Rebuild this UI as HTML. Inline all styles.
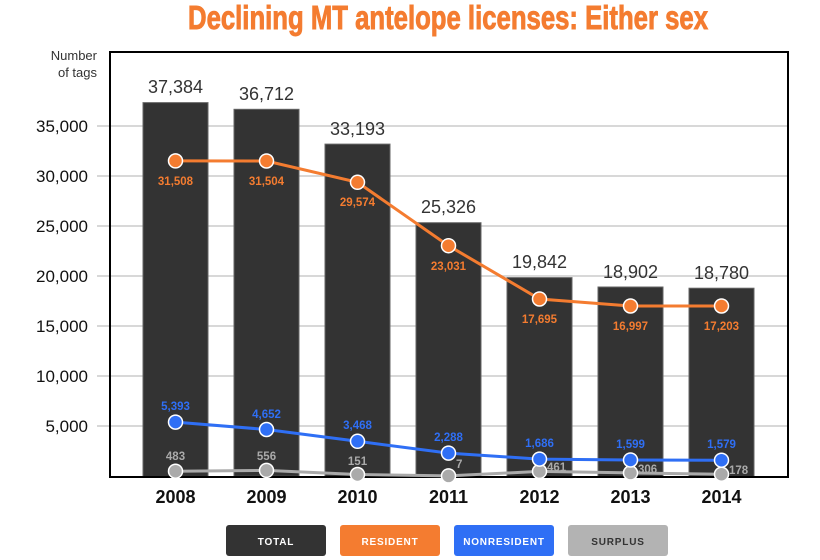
<!DOCTYPE html>
<html><head><meta charset="utf-8"><style>
body{margin:0;background:#fff;width:820px;height:560px;overflow:hidden}
svg{display:block}
text{font-family:"Liberation Sans",sans-serif}
</style></head><body>
<svg width="820" height="560" viewBox="0 0 820 560">
<text x="448" y="29" text-anchor="middle" font-weight="bold" font-size="33" fill="#f47c30" stroke="#f47c30" stroke-width="0.9" style="font-family:'Liberation Sans Narrow','Liberation Sans',sans-serif" textLength="520" lengthAdjust="spacingAndGlyphs">Declining MT antelope licenses: Either sex</text>
<text x="97" y="60" text-anchor="end" font-size="13" fill="#333">Number</text>
<text x="97" y="77" text-anchor="end" font-size="13" fill="#333">of tags</text>
<g stroke="#ccc" stroke-width="1.5">
<line x1="97" y1="126" x2="788" y2="126"/><line x1="97" y1="176" x2="788" y2="176"/>
<line x1="97" y1="226" x2="788" y2="226"/><line x1="97" y1="276" x2="788" y2="276"/>
<line x1="97" y1="326" x2="788" y2="326"/><line x1="97" y1="376" x2="788" y2="376"/>
<line x1="97" y1="426" x2="788" y2="426"/>
</g>
<g font-size="17" fill="#111" text-anchor="end">
<text x="88" y="132">35,000</text><text x="88" y="182">30,000</text><text x="88" y="232">25,000</text>
<text x="88" y="282">20,000</text><text x="88" y="332">15,000</text><text x="88" y="382">10,000</text>
<text x="88" y="432">5,000</text>
</g>
<g fill="#333" stroke="#666" stroke-width="1">
<rect x="143" y="102.6" width="65" height="374"/>
<rect x="234" y="109.3" width="65" height="367"/>
<rect x="325" y="144.1" width="65" height="333"/>
<rect x="416" y="222.7" width="65" height="254"/>
<rect x="507" y="277.6" width="65" height="199"/>
<rect x="598" y="287" width="65" height="190"/>
<rect x="689" y="288.2" width="65" height="189"/>
</g>
<rect x="110" y="52" width="678" height="425" fill="none" stroke="#000" stroke-width="2"/>
<g font-size="18" fill="#333" text-anchor="middle">
<text x="175.5" y="93">37,384</text><text x="266.5" y="100">36,712</text><text x="357.5" y="135">33,193</text>
<text x="448.5" y="213">25,326</text><text x="539.5" y="268">19,842</text><text x="630.5" y="278">18,902</text><text x="721.5" y="279">18,780</text>
</g>
<polyline points="175.5,471.2 266.5,470.4 357.5,474.5 448.5,475.9 539.5,471.4 630.5,472.9 721.5,474.2" fill="none" stroke="#aaa" stroke-width="3"/>
<g fill="#aaa" stroke="#fff" stroke-width="1.5">
<circle cx="175.5" cy="471.2" r="7"/><circle cx="266.5" cy="470.4" r="7"/><circle cx="357.5" cy="474.5" r="7"/><circle cx="448.5" cy="475.9" r="7"/><circle cx="539.5" cy="471.4" r="7"/><circle cx="630.5" cy="472.9" r="7"/><circle cx="721.5" cy="474.2" r="7"/>
</g>
<g font-size="11.5" fill="#aaa" font-weight="bold">
<text x="175.5" y="460" text-anchor="middle">483</text><text x="266.5" y="460" text-anchor="middle">556</text><text x="357.5" y="465" text-anchor="middle">151</text>
<text x="456" y="468">7</text><text x="547" y="471">461</text><text x="638" y="473">306</text><text x="729" y="474">178</text>
</g>
<polyline points="175.5,422.1 266.5,429.5 357.5,441.3 448.5,453.1 539.5,459.1 630.5,460 721.5,460.2" fill="none" stroke="#2f6ff5" stroke-width="3"/>
<g fill="#2f6ff5" stroke="#fff" stroke-width="1.5">
<circle cx="175.5" cy="422.1" r="7"/><circle cx="266.5" cy="429.5" r="7"/><circle cx="357.5" cy="441.3" r="7"/><circle cx="448.5" cy="453.1" r="7"/><circle cx="539.5" cy="459.1" r="7"/><circle cx="630.5" cy="460" r="7"/><circle cx="721.5" cy="460.2" r="7"/>
</g>
<g font-size="11.5" fill="#2f6ff5" font-weight="bold" text-anchor="middle">
<text x="175.5" y="410">5,393</text><text x="266.5" y="418">4,652</text><text x="357.5" y="429">3,468</text>
<text x="448.5" y="441">2,288</text><text x="539.5" y="447">1,686</text><text x="630.5" y="448">1,599</text><text x="721.5" y="448">1,579</text>
</g>
<polyline points="175.5,160.9 266.5,161 357.5,182.3 448.5,245.7 539.5,299 630.5,306 721.5,306" fill="none" stroke="#f47c30" stroke-width="3"/>
<g fill="#f47c30" stroke="#fff" stroke-width="1.5">
<circle cx="175.5" cy="160.9" r="7"/><circle cx="266.5" cy="161" r="7"/><circle cx="357.5" cy="182.3" r="7"/><circle cx="448.5" cy="245.7" r="7"/><circle cx="539.5" cy="299" r="7"/><circle cx="630.5" cy="306" r="7"/><circle cx="721.5" cy="306" r="7"/>
</g>
<g font-size="11.5" fill="#f47c30" font-weight="bold" text-anchor="middle">
<text x="175.5" y="185">31,508</text><text x="266.5" y="185">31,504</text><text x="357.5" y="206">29,574</text>
<text x="448.5" y="270">23,031</text><text x="539.5" y="323">17,695</text><text x="630.5" y="330">16,997</text><text x="721.5" y="330">17,203</text>
</g>
<g font-size="18" font-weight="bold" fill="#111" text-anchor="middle">
<text x="175.5" y="503">2008</text><text x="266.5" y="503">2009</text><text x="357.5" y="503">2010</text><text x="448.5" y="503">2011</text>
<text x="539.5" y="503">2012</text><text x="630.5" y="503">2013</text><text x="721.5" y="503">2014</text>
</g>
<g font-size="10" font-weight="bold" text-anchor="middle" letter-spacing="0.8">
<rect x="226" y="525" width="100" height="31" rx="3" fill="#333"/><text x="276" y="545" fill="#fff">TOTAL</text>
<rect x="340" y="525" width="100" height="31" rx="3" fill="#f47c30"/><text x="390" y="545" fill="#fff">RESIDENT</text>
<rect x="454" y="525" width="100" height="31" rx="3" fill="#2f6ff5"/><text x="504" y="545" fill="#fff">NONRESIDENT</text>
<rect x="568" y="525" width="100" height="31" rx="3" fill="#b3b3b3"/><text x="618" y="545" fill="#333">SURPLUS</text>
</g>
</svg>
</body></html>
